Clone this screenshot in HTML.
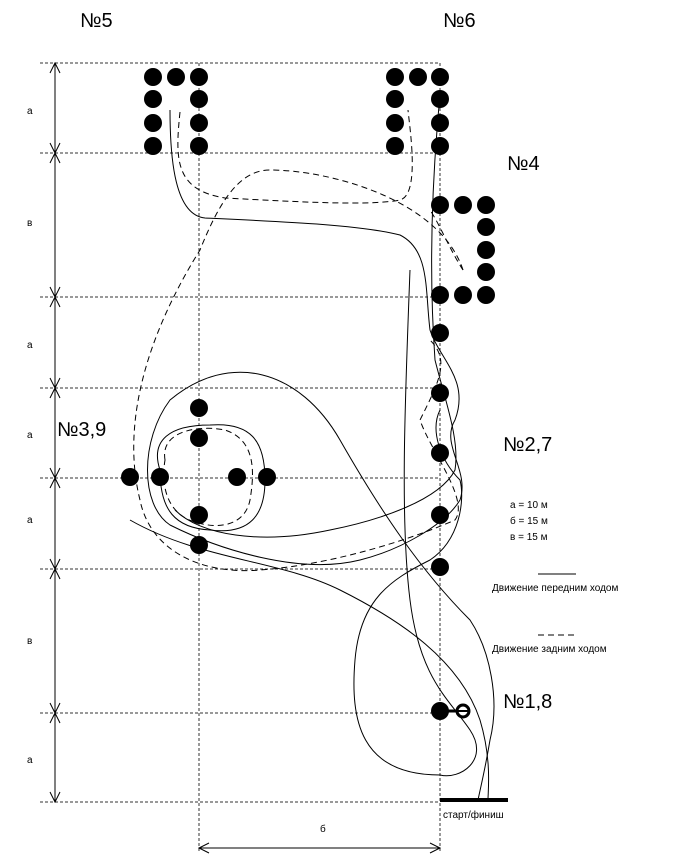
<!DOCTYPE html>
<html><head><meta charset="utf-8"><style>body{margin:0;background:#fff}svg{display:block}text{font-family:"Liberation Sans","DejaVu Sans",sans-serif}</style></head><body>
<svg width="679" height="861" viewBox="0 0 679 861" xmlns="http://www.w3.org/2000/svg">
<g stroke="#333" stroke-width="1" stroke-dasharray="3,2" fill="none">
<line x1="40" y1="63" x2="440" y2="63"/><line x1="40" y1="153" x2="440" y2="153"/>
<line x1="40" y1="297" x2="440" y2="297"/><line x1="40" y1="388" x2="440" y2="388"/>
<line x1="40" y1="478" x2="440" y2="478"/><line x1="40" y1="569" x2="440" y2="569"/>
<line x1="40" y1="713" x2="440" y2="713"/><line x1="40" y1="802" x2="440" y2="802"/>
<line x1="199" y1="63" x2="199" y2="852"/><line x1="440" y1="63" x2="440" y2="852"/>
</g>
<g stroke="#000" stroke-width="1" fill="none">
<line x1="55" y1="63" x2="55" y2="802"/>
<path d="M50,73 L55,63 L60,73 M50,143 L55,153 L60,143 M50,163 L55,153 L60,163 M50,287 L55,297 L60,287 M50,307 L55,297 L60,307 M50,378 L55,388 L60,378 M50,398 L55,388 L60,398 M50,468 L55,478 L60,468 M50,488 L55,478 L60,488 M50,559 L55,569 L60,559 M50,579 L55,569 L60,579 M50,703 L55,713 L60,703 M50,723 L55,713 L60,723 M50,792 L55,802 L60,792"/>
<line x1="199" y1="848" x2="440" y2="848"/>
<path d="M209,843 L199,848 L209,853 M430,843 L440,848 L430,853"/>
</g>
<g font-size="10" fill="#000">
<text x="27" y="114">а</text><text x="27" y="226">в</text><text x="27" y="348">а</text><text x="27" y="438">а</text><text x="27" y="523">а</text><text x="27" y="644">в</text><text x="27" y="763">а</text>
<text x="320" y="832">б</text>
</g>
<g font-size="20" fill="#000">
<text x="80" y="27">№5</text><text x="443" y="27">№6</text><text x="507" y="170">№4</text>
<text x="57" y="436">№3,9</text><text x="503" y="451">№2,7</text><text x="503" y="708">№1,8</text>
</g>
<g font-size="10" fill="#000">
<text x="510" y="508">а = 10 м</text><text x="510" y="524">б = 15 м</text><text x="510" y="540">в = 15 м</text>
<text x="492" y="591">Движение передним ходом</text><text x="492" y="652">Движение задним ходом</text>
<text x="443" y="818">старт/финиш</text>
</g>
<line x1="538" y1="574" x2="576" y2="574" stroke="#000"/>
<line x1="538" y1="635" x2="576" y2="635" stroke="#000" stroke-dasharray="6,4"/>
<line x1="440" y1="800" x2="508" y2="800" stroke="#000" stroke-width="4"/>
<g fill="#000">
<circle cx="153" cy="77" r="9"/><circle cx="176" cy="77" r="9"/><circle cx="199" cy="77" r="9"/>
<circle cx="153" cy="99" r="9"/><circle cx="199" cy="99" r="9"/><circle cx="153" cy="123" r="9"/><circle cx="199" cy="123" r="9"/><circle cx="153" cy="146" r="9"/><circle cx="199" cy="146" r="9"/>
<circle cx="395" cy="77" r="9"/><circle cx="418" cy="77" r="9"/><circle cx="440" cy="77" r="9"/>
<circle cx="395" cy="99" r="9"/><circle cx="440" cy="99" r="9"/><circle cx="395" cy="123" r="9"/><circle cx="440" cy="123" r="9"/><circle cx="395" cy="146" r="9"/><circle cx="440" cy="146" r="9"/>
<circle cx="440" cy="205" r="9"/><circle cx="463" cy="205" r="9"/><circle cx="486" cy="205" r="9"/><circle cx="486" cy="227" r="9"/><circle cx="486" cy="250" r="9"/><circle cx="486" cy="272" r="9"/><circle cx="440" cy="295" r="9"/><circle cx="463" cy="295" r="9"/><circle cx="486" cy="295" r="9"/>
<circle cx="199" cy="408" r="9"/><circle cx="199" cy="438" r="9"/><circle cx="130" cy="477" r="9"/><circle cx="160" cy="477" r="9"/><circle cx="237" cy="477" r="9"/><circle cx="267" cy="477" r="9"/><circle cx="199" cy="515" r="9"/><circle cx="199" cy="545" r="9"/>
<circle cx="440" cy="333" r="9"/><circle cx="440" cy="393" r="9"/><circle cx="440" cy="453" r="9"/><circle cx="440" cy="515" r="9"/><circle cx="440" cy="567" r="9"/><circle cx="440" cy="711" r="9"/>
</g>
<line x1="448" y1="711" x2="463" y2="711" stroke="#000" stroke-width="3"/>
<circle cx="463" cy="711" r="6" fill="#fff" stroke="#000" stroke-width="3"/>
<line x1="457" y1="711" x2="469" y2="711" stroke="#000" stroke-width="2"/>
<g stroke="#000" stroke-width="1" fill="none">
<path d="M170,110 C170,160 175,215 205,218 C290,222 360,225 400,235 C430,250 425,290 430,330 C440,360 470,380 455,420 C440,445 470,470 460,500 C445,525 400,550 360,560 C300,575 220,550 170,525 C140,505 140,440 170,400 C230,350 300,370 340,440 C380,510 420,570 470,620 C490,650 500,700 490,740 C485,770 480,790 478,800"/>
<path d="M410,270 C405,400 400,520 410,600 C420,680 450,700 470,730 C490,760 460,780 440,775 C360,775 350,720 355,660 C360,600 390,580 430,560 C460,540 465,500 460,480 C440,460 430,430 440,410"/>
<path d="M160,470 C150,440 170,425 210,425 C250,422 265,440 265,480 C265,515 250,535 210,530 C175,528 160,510 160,470 Z"/>
<path d="M440,95 C430,200 430,290 435,360 C445,400 460,440 455,470 C440,500 380,520 330,530 C260,545 200,535 175,510"/>
<path d="M130,520 C200,560 280,560 340,590 C400,620 460,660 480,720 C492,760 488,790 488,800"/>
</g>
<g stroke="#000" stroke-width="1" fill="none" stroke-dasharray="6,4">
<path d="M180,112 C175,160 175,190 225,198 C300,202 370,206 400,200 C420,195 410,130 408,110"/>
<path d="M463,270 C450,250 440,225 430,210"/>
<path d="M463,270 C440,200 330,170 270,170 C240,170 220,200 200,250 C150,330 120,420 140,500 C150,550 200,575 260,570 C330,565 410,540 455,520 C470,500 430,450 420,420 C440,380 450,360 430,340"/>
<path d="M165,460 C160,430 200,425 225,430 C255,440 255,470 250,500 C245,525 220,530 195,522 C170,515 160,490 165,460 Z"/>
</g>
</svg>
</body></html>
